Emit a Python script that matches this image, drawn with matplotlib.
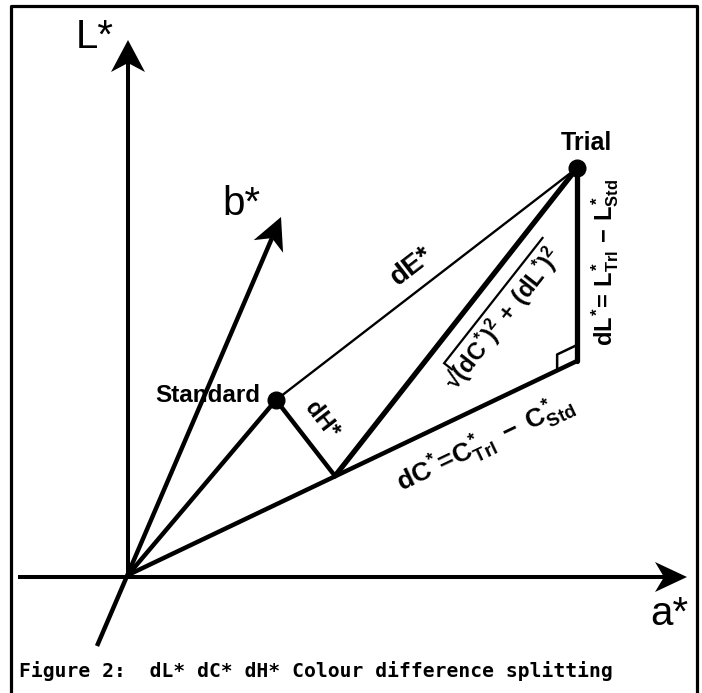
import numpy as np
import matplotlib
matplotlib.use("Agg")
import matplotlib.pyplot as plt
from matplotlib.patches import Polygon

plt.rcParams['mathtext.fontset'] = 'custom'
plt.rcParams['mathtext.rm'] = 'Liberation Sans:bold'
plt.rcParams['mathtext.it'] = 'Liberation Sans:bold'
plt.rcParams['mathtext.bf'] = 'Liberation Sans:bold'
plt.rcParams['mathtext.sf'] = 'Liberation Sans:bold'

W, H = 702, 693

# geometry of the diagram, in picture pixels (y grows downwards)
origin = (128, 575)
standard = (276, 400)
trial = (577, 168)
corner = (577, 361)      # foot of dL* below the trial point
dh_foot = (335, 476)     # foot of dH* on the chroma line

a_axis = [(18, 577), (687, 577)]
l_axis = [(128, 577), (128, 40)]
b_axis = [(97, 646), (281, 217)]

axis_labels = ["L*", "a*", "b*"]
axis_label_pos = [(95, 37), (669, 614), (241, 204)]

caption = "Figure 2:  dL* dC* dH* Colour difference splitting"


def angle_of(p, q):
    return np.degrees(np.arctan2(-(q[1] - p[1]), q[0] - p[0]))


def arrow(ax, tail, tip, lw, length=32, half=16, notch=9):
    tail = np.array(tail, float)
    tip = np.array(tip, float)
    u = (tip - tail) / np.linalg.norm(tip - tail)
    n = np.array([-u[1], u[0]])
    back = tip - length * u
    mid = tip - (length - notch) * u
    ax.plot([tail[0], mid[0]], [tail[1], mid[1]], color='black', lw=lw,
            solid_capstyle='butt')
    head = Polygon([tip, back + half * n, mid, back - half * n],
                   closed=True, color='black', lw=0)
    ax.add_patch(head)


fig = plt.figure(figsize=(W / 100, H / 100), dpi=100)
ax = fig.add_axes([0, 0, 1, 1])
ax.set_xlim(0, W)
ax.set_ylim(H, 0)
ax.axis('off')
renderer = fig.canvas.get_renderer()

# frame (open at the bottom)
ax.plot([11, 11, 697, 697], [H + 5, 6, 6, H + 5], color='black', lw=2.3)

# axes with arrows
arrow(ax, *a_axis, lw=2.9, length=32, half=15)
arrow(ax, *l_axis, lw=2.9, length=32, half=17)
arrow(ax, *b_axis, lw=3.2, length=32, half=16)
for lab, pos in zip(axis_labels, axis_label_pos):
    ax.text(pos[0], pos[1], lab, fontsize=29, family='Liberation Sans',
            ha='center', va='center')


def seg(p, q, lw):
    ax.plot([p[0], q[0]], [p[1], q[1]], color='black', lw=lw,
            solid_capstyle='round')


seg(origin, standard, 3.2)
seg(origin, corner, 3.2)
seg(standard, dh_foot, 3.2)
seg(standard, trial, 1.7)
seg(dh_foot, trial, 3.8)
seg(trial, corner, 3.8)

# right-angle marker at the corner
u = np.array(origin, float) - np.array(corner, float)
u /= np.linalg.norm(u)
c = np.array(corner, float)
p1 = c + 22 * u
p2 = p1 + np.array([0, -16])
p3 = c + np.array([0, -16])
ax.plot([p1[0], p2[0], p3[0]], [p1[1], p2[1], p3[1]], color='black', lw=1.8)

# points
ax.plot(*trial, 'o', color='black', ms=12)
ax.plot(*standard, 'o', color='black', ms=12)
ax.text(586, 143, "Trial", fontsize=18, fontweight='bold',
        family='Liberation Sans', ha='center', va='center')
ax.text(260, 395, "Standard", fontsize=17.5, fontweight='bold',
        family='Liberation Sans', ha='right', va='center')

# difference labels
ax.text(412, 266, "dE*", fontsize=20, fontweight='bold',
        family='Liberation Sans', ha='center', va='center',
        rotation=angle_of(standard, trial), rotation_mode='anchor')
ax.text(322, 420, "dH*", fontsize=17, fontweight='bold',
        family='Liberation Sans', ha='center', va='center',
        rotation=angle_of(standard, dh_foot), rotation_mode='anchor')

# root label with a heavy overline drawn by hand
root_str = '$\u221a(dC^{*})^{2}\\,+\\,(dL^{*})^{2}$'
root_size = 17
root_center = np.array([503.0, 319.0])
ang = angle_of(dh_foot, trial)
tmp = ax.text(0, 0, root_str, fontsize=root_size)
w_all = tmp.get_window_extent(renderer).width
tmp.remove()
tmp = ax.text(0, 0, '$\u221a$', fontsize=root_size)
w_surd = tmp.get_window_extent(renderer).width
tmp.remove()
ax.text(*root_center, root_str, fontsize=root_size, ha='center', va='center',
        rotation=ang, rotation_mode='anchor')
th = np.radians(ang)
ud = np.array([np.cos(th), -np.sin(th)])
nd = np.array([-np.sin(th), -np.cos(th)])
s_along = -w_all / 2 + w_surd * 1.0
o0 = root_center + s_along * ud + 9 * nd
o1 = root_center + s_along * ud + 19 * nd
o2 = root_center + (w_all / 2 + 2) * ud + 19 * nd
ax.plot([o0[0], o1[0], o2[0]], [o0[1], o1[1], o2[1]], color='black', lw=1.6,
        solid_joinstyle='miter')

ax.text(486, 444, r'$dC^{*}\!=\!C^{*}_{Trl}\;-\;C^{*}_{Std}$', fontsize=19,
        ha='center', va='center',
        rotation=angle_of(origin, corner), rotation_mode='anchor')
ax.text(605, 262, r'$dL^{*}\!=\,L^{*}_{Trl}\,-\,L^{*}_{Std}$', fontsize=17,
        ha='center', va='center', rotation=90, rotation_mode='anchor')

# caption
ax.text(19, 677, caption, fontsize=14.1, fontweight='bold',
        family='DejaVu Sans Mono', ha='left', va='baseline')

fig.savefig("out.png", dpi=100)
